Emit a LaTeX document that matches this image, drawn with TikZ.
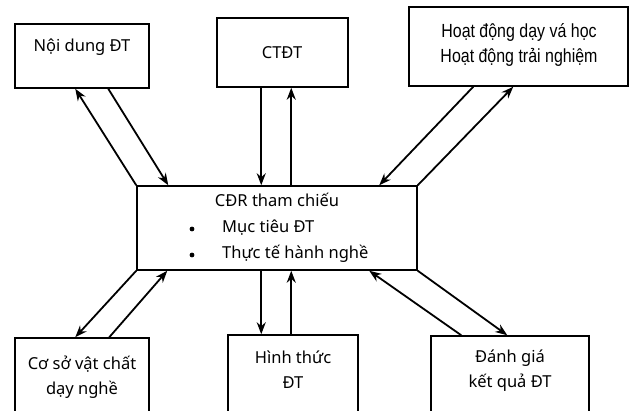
\documentclass[tikz,border=0pt]{standalone}
\usepackage{fontspec}
\setmainfont{Noto Sans}
\newfontfamily\narrowfont[FakeStretch=0.84]{Liberation Sans}
\usetikzlibrary{arrows.meta}
\tikzset{
  box/.style={draw=black, line width=1.5pt, inner sep=0pt, fill=white},
  lbl/.style={font=\fontsize{16.5}{25}\selectfont, align=center, inner sep=0pt},
  arr/.style={line width=1.8pt, -{Stealth[length=12pt,width=9pt]}},
}
\begin{document}
\begin{tikzpicture}[x=1pt,y=-1pt]
\clip (0,0) rectangle (634,410);
\fill[white] (0,0) rectangle (634,410);
% boxes
\node[box, minimum width=134pt, minimum height=64pt] (nd) at (82,56) {};
\node[box, minimum width=131pt, minimum height=69pt] (ct) at (282.5,52.5) {};
\node[box, minimum width=219pt, minimum height=79pt] (hd) at (518.5,46.5) {};
\node[box, minimum width=280pt, minimum height=84pt] (cdr) at (277,228) {};
\node[box, minimum width=134pt, minimum height=82pt] (cs) at (82,379) {};
\node[box, minimum width=130pt, minimum height=85pt] (ht) at (293,377.5) {};
\node[box, minimum width=158pt, minimum height=84pt] (dg) at (510,378) {};
% texts
\node[lbl] (tnd) at (82,47) {Nội dung ĐT};
\node[lbl] (tct) at (282,53) {CTĐT};
\node[lbl, font=\narrowfont\fontsize{19}{25}\selectfont] (thd) at (519,45) {Hoạt động dạy vá học\\Hoạt động trải nghiệm};
\node[lbl] (tcdr) at (277,200) {CĐR tham chiếu};
\node[lbl, anchor=west] (tm1) at (222,228) {Mục tiêu ĐT};
\node[lbl, anchor=west] (tm2) at (222,254) {Thực tế hành nghề};
\fill (192,229) circle (2.4pt);
\fill (192,255) circle (2.4pt);
\node[lbl] (tcs) at (82,377) {Cơ sở vật chất\\dạy nghề};
\node[lbl] (tht) at (293,370) {Hình thức\\ĐT};
\node[lbl] (tdg) at (510,371) {Đánh giá\\kết quả ĐT};
% arrows
\draw[arr] (cdr.north west) -- ([xshift=61pt]nd.south west);
\draw[arr] ([xshift=94pt]nd.south west) -- ([xshift=32pt]cdr.north west);
\draw[arr] ([xshift=45pt]ct.south west) -- ([xshift=125pt]cdr.north west);
\draw[arr] ([xshift=155pt]cdr.north west) -- ([xshift=75pt]ct.south west);
\draw[arr] ([xshift=65pt]hd.south west) -- ([xshift=243pt]cdr.north west);
\draw[arr] (cdr.north east) -- ([xshift=105pt]hd.south west);
\draw[arr] (cdr.south west) -- ([xshift=61pt]cs.north west);
\draw[arr] ([xshift=95pt]cs.north west) -- ([xshift=31pt]cdr.south west);
\draw[arr] ([xshift=125pt]cdr.south west) -- ([xshift=34pt]ht.north west);
\draw[arr] ([xshift=64pt]ht.north west) -- ([xshift=155pt]cdr.south west);
\draw[arr] ([xshift=31pt]dg.north west) -- ([xshift=233pt]cdr.south west);
\draw[arr] (cdr.south east) -- ([xshift=77pt]dg.north west);
\end{tikzpicture}
\end{document}
